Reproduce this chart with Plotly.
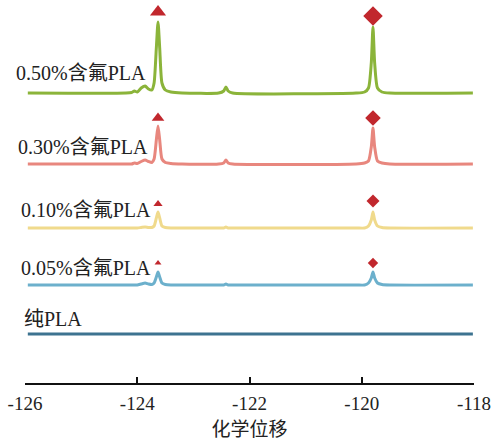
import plotly.graph_objects as go

# chemical shift sample points (ppm)
x_ppm = [-125.95, -124.2, -124.1, -124.05, -124.0, -123.93, -123.86, -123.8, -123.74,
         -123.70, -123.66, -123.63, -123.60, -123.56, -123.50, -123.40, -123.2,
         -122.55, -122.46, -122.42, -122.38, -122.3, -120.1, -119.95, -119.88,
         -119.83, -119.80, -119.77, -119.72, -119.64, -119.5, -118.02]

labels = ["纯PLA", "0.05%含氟PLA", "0.10%含氟PLA", "0.30%含氟PLA", "0.50%含氟PLA"]
colors = ["#3d7390", "#6cb0cc", "#f0da8c", "#e8877e", "#8bb43a"]
offsets = [0, 49, 106, 170, 241]

y_pure = [0] * 32
y_005 = [0, 0, 0, 0, 0, 1, 2, 1, 0.5, 2, 8, 13, 8, 2, 0.5, 0, 0, 0, 0, 1, 0, 0, 0, 0, 2, 7, 13, 7, 2, 0.5, 0, 0]
y_010 = [0, 0, 0, 0, 0, 0.5, 1, 0.5, 0.5, 2, 10, 16, 10, 2, 0.5, 0, 0, 0, 0, 1, 0, 0, 0, 0, 2, 8, 16, 8, 2, 0.5, 0, 0]
y_030 = [0, 0, 0, 1, 0.5, 2.5, 4, 2.5, 1.5, 5, 24, 38, 24, 5, 1.5, 0.5, 0, 0, 1, 4, 1, 0, 0, 1, 3, 17, 36, 17, 3, 1, 0, 0]
y_050 = [0, 0, 0.5, 2, 1, 5, 7, 4, 3, 10, 45, 71, 45, 10, 3, 1, 0, 0, 2, 6, 2, 0, 0, 1, 5, 30, 66, 30, 5, 1, 0, 0]
series = [y_pure, y_005, y_010, y_030, y_050]

# peak markers (triangle at -123.63, diamond at -119.80)
tri_x = -123.63
dia_x = -119.80
tri_y = [None, 71, 130, 216, 322]
dia_y = [None, 71, 133, 216, 318]
tri_size = [0, 6, 8, 11, 14]
dia_size = [0, 8, 10, 12, 15]
marker_color = "#c1272d"

# label positions (paper x, data y)
label_x = [-0.007, -0.013, -0.013, -0.02, -0.025]
label_y = [15, 66, 124, 187, 261]

tick_vals = [-126, -124, -122, -120, -118]
tick_text = ["-126", "-124", "-122", "-120", "-118"]

fig = go.Figure()
for ys, off, col in zip(series, offsets, colors):
    fig.add_trace(go.Scatter(x=x_ppm, y=[v + off for v in ys], mode="lines",
                             line=dict(color=col, width=3, shape="spline", smoothing=0.6),
                             hoverinfo="skip", showlegend=False))

for i in range(1, 5):
    fig.add_trace(go.Scatter(x=[tri_x], y=[tri_y[i]], mode="markers", cliponaxis=False,
                             marker=dict(symbol="triangle-up", size=tri_size[i], color=marker_color),
                             showlegend=False, hoverinfo="skip"))
    fig.add_trace(go.Scatter(x=[dia_x], y=[dia_y[i]], mode="markers", cliponaxis=False,
                             marker=dict(symbol="diamond", size=dia_size[i], color=marker_color),
                             showlegend=False, hoverinfo="skip"))

for lab, lx, ly in zip(labels, label_x, label_y):
    fig.add_annotation(x=lx, xref="paper", y=ly, yref="y", text=lab, showarrow=False,
                       xanchor="left", yanchor="middle",
                       font=dict(family="Liberation Serif, Noto Sans CJK SC", size=20, color="#222"))

fig.update_layout(
    width=494, height=446,
    margin=dict(l=25, r=20, t=5, b=63, autoexpand=False),
    paper_bgcolor="white", plot_bgcolor="white",
    xaxis=dict(range=[-126, -118], tickvals=tick_vals, ticktext=tick_text, automargin=False,
               ticks="inside", ticklen=6, tickwidth=2, tickcolor="#111", ticklabelstandoff=2,
               showline=True, linewidth=2, linecolor="#111", showgrid=False, zeroline=False,
               tickfont=dict(family="Liberation Serif", size=19, color="#222"),
               title=dict(text="化学位移", standoff=0,
                          font=dict(family="Noto Sans CJK SC", size=19, color="#222"))),
    yaxis=dict(range=[-49, 329], visible=False, showgrid=False, zeroline=False, automargin=False),
)
fig.write_html("out.html", config={"displayModeBar": False},
               post_script="document.body.style.margin='0';document.body.style.padding='0';")
